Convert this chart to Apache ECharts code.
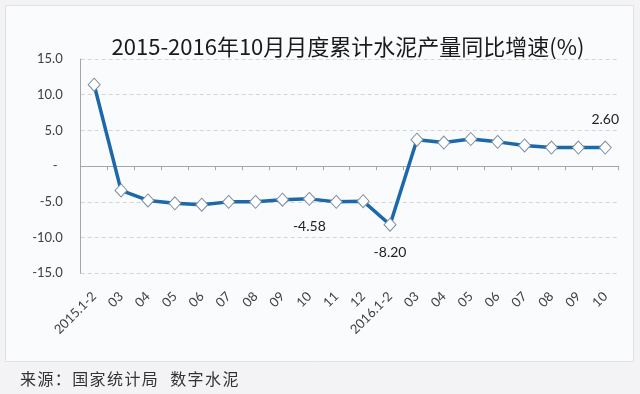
<!DOCTYPE html>
<html>
<head>
<meta charset="utf-8">
<script src="https://cdn.jsdelivr.net/npm/echarts@6/dist/echarts.min.js"></script>
<style>
  html, body { margin: 0; padding: 0; background: #f3f3f5; }
  #chart { width: 640px; height: 394px; }
</style>
</head>
<body>
<div id="chart"></div>
<script>
// Cumulative cement output, year-on-year growth (%), Jan 2015 – Oct 2016
const categories = ['2015.1-2', '03', '04', '05', '06', '07', '08', '09', '10', '11', '12',
  '2016.1-2', '03', '04', '05', '06', '07', '08', '09', '10'];
const growth = [11.4, -3.4, -4.8, -5.2, -5.4, -5.0, -5.0, -4.7, -4.58, -5.0, -4.9,
  -8.20, 3.7, 3.3, 3.8, 3.4, 2.9, 2.6, 2.6, 2.60];
// Points whose values are printed next to the marker
const labelled = { 8: 'bottom', 11: 'bottom', 19: 'top' };
const yTicks = { min: -15, max: 15, step: 5 };
const sourceNote = '来源：国家统计局 数字水泥';

const chart = echarts.init(document.getElementById('chart'), null, { renderer: 'canvas' });
const labelFont = 'Lato, "Liberation Sans", sans-serif';

// Source line, set character by character for the wide spacing
const noteChars = [];
let noteX = 20;
Array.from(sourceNote).forEach(ch => {
  if (ch === ' ') { noteX += 11; return; }
  noteChars.push({
    type: 'text', silent: true,
    x: noteX, y: 379,
    style: {
      text: ch, font: '16px "Noto Sans CJK SC", sans-serif', fill: '#333',
      verticalAlign: 'middle'
    }
  });
  noteX += 17.4;
});

chart.setOption({
  backgroundColor: '#f3f3f5',
  animation: false,
  graphic: [
    {
      type: 'rect', z: -10, silent: true,
      shape: { x: 5.5, y: 5.5, width: 628, height: 356 },
      style: { fill: '#fafbfd', stroke: '#e1e1e5', lineWidth: 1 }
    }
  ].concat(noteChars),
  title: {
    text: '2015-2016年10月月度累计水泥产量同比增速(%)',
    left: 343,
    textAlign: 'center',
    top: 31,
    textStyle: {
      fontFamily: '"Noto Sans CJK SC", sans-serif',
      fontSize: 22,
      fontWeight: 'normal',
      color: '#1a1a1a'
    }
  },
  grid: { left: 80.7, right: 21.3, top: 59, bottom: 120.7, containLabel: false },
  xAxis: [
    {
      type: 'category',
      data: categories,
      position: 'bottom',
      boundaryGap: true,
      axisLine: { show: false, onZero: false },
      axisTick: { show: false },
      axisLabel: {
        rotate: 45,
        margin: 21,
        interval: 0,
        fontFamily: labelFont,
        fontSize: 13,
        color: '#404040'
      }
    },
    {
      type: 'category',
      data: categories,
      position: 'bottom',
      boundaryGap: true,
      axisLine: { show: true, onZero: true, lineStyle: { color: '#a6a6a6', width: 1 } },
      axisTick: { show: true, interval: 0, length: 4, lineStyle: { color: '#a6a6a6' } },
      axisLabel: { show: false }
    }
  ],
  yAxis: {
    type: 'value',
    min: yTicks.min,
    max: yTicks.max,
    interval: yTicks.step,
    axisLine: { show: true, lineStyle: { color: '#a6a6a6', width: 1 } },
    axisTick: { show: false },
    splitLine: { show: true, lineStyle: { color: '#d4d4d8', type: [4, 3], width: 1 } },
    axisLabel: {
      margin: 18,
      fontFamily: labelFont,
      fontSize: 13,
      color: '#404040',
      formatter: v => (v === 0 ? '{z|-}' : v.toFixed(1)),
      rich: { z: { padding: [0, 5, 0, 0], fontFamily: labelFont, fontSize: 13, color: '#404040' } }
    }
  },
  series: [
    {
      type: 'line',
      xAxisIndex: 0,
      data: growth.map((v, i) => {
        const item = { value: v };
        if (labelled[i]) {
          item.label = {
            show: true,
            position: labelled[i],
            distance: 14,
            formatter: () => v.toFixed(2)
          };
        }
        return item;
      }),
      symbol: 'diamond',
      symbolSize: [12, 13],
      showAllSymbol: true,
      lineStyle: { color: '#1c68a8', width: 3.5 },
      itemStyle: { color: '#ffffff', borderColor: '#7d8fa3', borderWidth: 1 },
      label: {
        fontFamily: labelFont,
        fontSize: 14,
        color: '#222'
      },
      z: 5
    }
  ]
});
</script>
</body>
</html>
